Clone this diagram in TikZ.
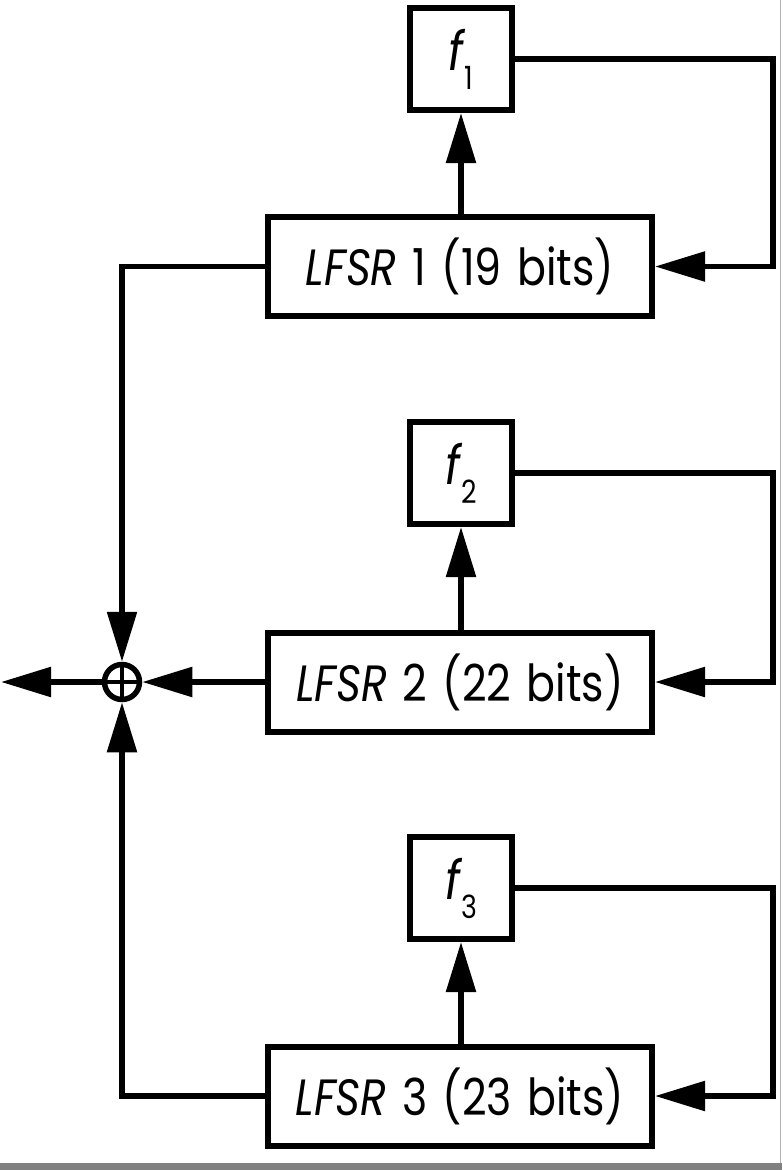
\documentclass[tikz,border=0pt]{standalone}
\usepackage{fontspec}
\setmainfont{Poppins}[FakeStretch=0.84,WordSpace=1.35]
\usetikzlibrary{arrows.meta}
\newcommand{\fsub}[1]{\textit{f}\kern-1pt\raisebox{-19pt}{\fontsize{32}{32}\selectfont #1}}
\begin{document}
\begin{tikzpicture}[x=1pt,y=-1pt,
  conn/.style={line width=5.5pt},
  arr/.style={conn,-{Triangle[length=50pt,width=29pt]}},
  reg/.style={draw,line width=6pt,minimum width=384pt,minimum height=99pt,inner sep=0pt,font=\fontsize{51}{60}\selectfont},
  fbox/.style={draw,line width=6pt,minimum size=102pt,inner sep=0pt,font=\fontsize{54}{60}\selectfont},
  xorc/.style={draw,circle,line width=5.5pt,minimum size=35pt,inner sep=0pt},
]
\useasboundingbox (0,0) rectangle (782,1170);
\fill[black!50] (0,1163) rectangle (782,1170);
\draw[gray!60,line width=1pt] (780.5,0) -- (780.5,1163);

\node[reg] (l1) at (460,266.5) {\textit{LFSR} 1 (19 bits)};
\node[reg] (l2) at (460,682) {\textit{LFSR} 2 (22 bits)};
\node[reg] (l3) at (460,1096) {\textit{LFSR} 3 (23 bits)};
\node[fbox] (f1) at (461,59) {\fsub{1}};
\node[fbox] (f2) at (461,473) {\fsub{2}};
\node[fbox] (f3) at (461,888) {\fsub{3}};
\node[xorc] (x) at (122,682) {};
\draw[line width=4.5pt] (x.north) -- (x.south) (x.west) -- (x.east);

\coordinate (r1) at (773,59);
\coordinate (r2) at (773,473);
\coordinate (r3) at (773,888);
\coordinate (c1) at (122,266.5);
\coordinate (c3) at (122,1096);
\coordinate (out) at (1,682);

\draw[arr] (l1.north -| f1) -- (f1.south);
\draw[arr] (l2.north -| f2) -- (f2.south);
\draw[arr] (l3.north -| f3) -- (f3.south);
\draw[arr] (f1.east) -- (r1) |- (l1.east);
\draw[arr] (f2.east) -- (r2) |- (l2.east);
\draw[arr] (f3.east) -- (r3) |- (l3.east);
\draw[arr] (l1.west) -- (c1) -- (x.north);
\draw[arr] (l3.west) -- (c3) -- (x.south);
\draw[arr] (l2.west) -- (x.east);
\draw[arr] (x.west) -- (out);
\end{tikzpicture}
\end{document}
